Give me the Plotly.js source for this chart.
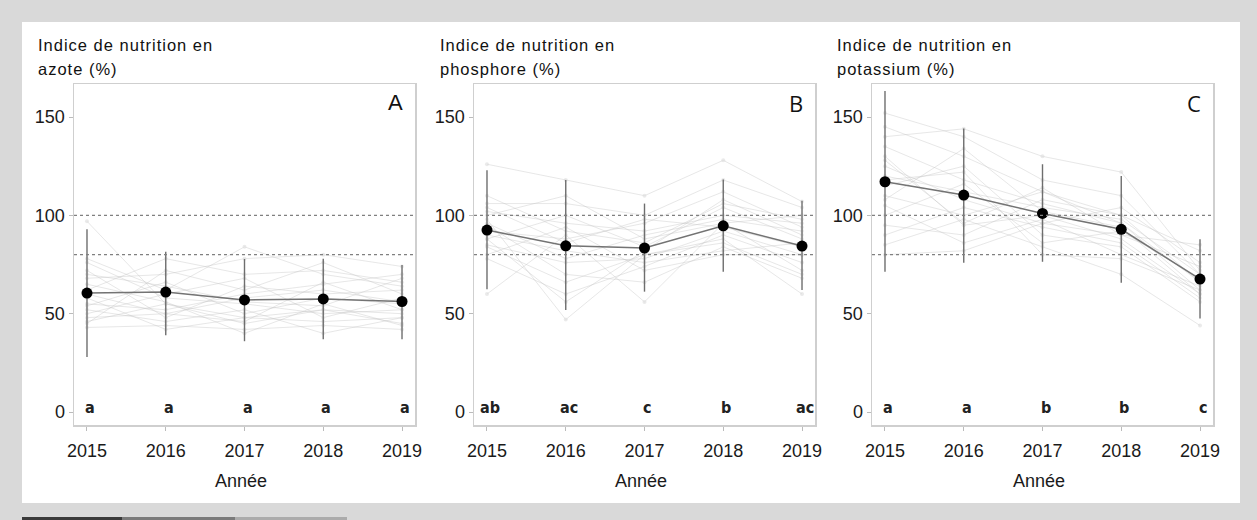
<!DOCTYPE html>
<html><head><meta charset="utf-8">
<script src="https://cdn.plot.ly/plotly-3.0.1.min.js"></script>
<style>html,body{margin:0;padding:0;background:#d9d9d9;}#chart{width:1257px;height:520px;}</style>
</head><body><div id="chart"></div>
<script>
// ---------- DATA ----------
const years = [2015, 2016, 2017, 2018, 2019];

// Panel A: azote
const titleA = ["Indice de nutrition en", "azote (%)"];
const meanA = [60.5, 61, 57, 57.5, 56.2];
const upperA = [93, 81.5, 77.8, 78, 74.7];
const lowerA = [28, 39, 36, 37, 37];
const lettersA = ["a", "a", "a", "a", "a"];
const indivA = [
  [97, 55, 48, 52, 45], [78, 62, 84, 70, 64], [76, 58, 55, 50, 52], [68, 70, 78, 80, 74],
  [55, 52, 60, 65, 70], [54, 66, 50, 58, 55], [48, 50, 58, 62, 56], [46, 55, 45, 52, 50],
  [43, 44, 42, 44, 42], [72, 48, 64, 60, 62], [62, 78, 70, 72, 66], [58, 42, 48, 46, 48],
  [50, 60, 68, 48, 58], [65, 56, 40, 55, 44], [45, 72, 62, 76, 60], [52, 46, 52, 40, 48],
  [70, 64, 56, 54, 68], [60, 50, 46, 66, 52]
];

// Panel B: phosphore
const titleB = ["Indice de nutrition en", "phosphore (%)"];
const meanB = [92.5, 84.5, 83.4, 94.7, 84.4];
const upperB = [123, 118, 106, 118.3, 107.4];
const lowerB = [62.4, 51.9, 61.2, 71.3, 62];
const lettersB = ["ab", "ac", "c", "b", "ac"];
const indivB = [
  [126, 118, 110, 128, 107], [106, 106, 100, 118, 104], [60, 90, 56, 96, 100], [98, 47, 80, 88, 60],
  [95, 70, 66, 84, 68], [102, 96, 92, 100, 96], [88, 100, 84, 104, 88], [78, 60, 74, 90, 76],
  [92, 88, 96, 112, 94], [85, 76, 78, 92, 80], [100, 110, 88, 96, 72], [90, 82, 76, 82, 86],
  [110, 92, 86, 106, 98], [84, 66, 80, 86, 70], [96, 78, 90, 98, 92], [80, 94, 72, 80, 80],
  [104, 86, 98, 94, 84], [88, 56, 82, 108, 90]
];

// Panel C: potassium
const titleC = ["Indice de nutrition en", "potassium (%)"];
const meanC = [117.1, 110.3, 101, 92.9, 67.6];
const upperC = [163.2, 144.2, 126, 120, 87.8];
const lowerC = [71.3, 75.9, 76.4, 65.7, 47.6];
const lettersC = ["a", "a", "b", "b", "c"];
const indivC = [
  [152, 140, 118, 110, 70], [145, 130, 112, 100, 66], [140, 144, 130, 122, 72], [135, 118, 106, 96, 62],
  [130, 95, 100, 88, 60], [125, 108, 96, 90, 74], [120, 112, 104, 98, 70], [115, 125, 90, 84, 56],
  [110, 100, 112, 96, 66], [105, 86, 98, 80, 64], [100, 116, 86, 92, 68], [95, 90, 108, 100, 82],
  [90, 104, 94, 86, 58], [85, 98, 84, 70, 44], [80, 82, 96, 104, 76], [118, 122, 80, 78, 62],
  [128, 96, 114, 90, 85], [108, 134, 102, 94, 60]
];

const panelLetters = ["A", "B", "C"];
const refLines = [80, 100];
const yTicks = [0, 50, 100, 150];
const xLabel = "Année";

// ---------- BUILD ----------
const W = 1257, H = 520;
const panels = [
  {mean: meanA, up: upperA, lo: lowerA, letters: lettersA, indiv: indivA, title: titleA, x0: 74, x1: 415, tx: 36, letterFont: "Liberation Sans"},
  {mean: meanB, up: upperB, lo: lowerB, letters: lettersB, indiv: indivB, title: titleB, x0: 474, x1: 815, tx: 438, letterFont: "Open Sans"},
  {mean: meanC, up: upperC, lo: lowerC, letters: lettersC, indiv: indivC, title: titleC, x0: 872, x1: 1213, tx: 835, letterFont: "Open Sans"}
];
const yTop = 84, yBot = 425;
const traces = [], annotations = [], shapes = [];
const layout = {
  width: W, height: H, margin: {l: 0, r: 0, t: 0, b: 0},
  paper_bgcolor: "#d9d9d9", plot_bgcolor: "#ffffff", showlegend: false,
  font: {family: "Liberation Sans, Arial, sans-serif", color: "#222"}
};
shapes.push({type: "rect", xref: "paper", yref: "paper", x0: 22 / W, x1: 1240 / W, y0: 1 - 503 / H, y1: 1 - 22 / H,
  fillcolor: "#ffffff", line: {width: 0}, layer: "below"});
[[22, 122, "#3a3a3a"], [122, 235, "#7a7a7a"], [235, 347, "#ababab"]].forEach(s => {
  shapes.push({type: "rect", xref: "paper", yref: "paper", x0: s[0] / W, x1: s[1] / W, y0: 0, y1: 3 / H,
    fillcolor: s[2], line: {width: 0}, layer: "below"});
});

panels.forEach((p, i) => {
  const sfx = i === 0 ? "" : String(i + 1);
  const xa = "x" + sfx, ya = "y" + sfx;
  layout["xaxis" + sfx] = {
    domain: [p.x0 / W, p.x1 / W], anchor: ya, range: [2014.835, 2019.165],
    tickvals: years, ticktext: years.map(String), ticks: "outside", ticklen: 4, tickcolor: "#bbbbbb",
    ticklabelstandoff: 5,
    showline: true, mirror: true, linecolor: "#cfcfcf", linewidth: 1.5, showgrid: false, zeroline: false,
    tickfont: {size: 18, color: "#1a1a1a"}, fixedrange: true
  };
  layout["yaxis" + sfx] = {
    domain: [1 - yBot / H, 1 - yTop / H], anchor: xa, range: [-6.6, 166.8],
    tickvals: yTicks, ticks: "outside", ticklen: 4, tickcolor: "#bbbbbb",
    showline: true, mirror: true, linecolor: "#cfcfcf", linewidth: 1.5, showgrid: false, zeroline: false,
    tickfont: {size: 18, color: "#1a1a1a"}, fixedrange: true
  };
  p.indiv.forEach(v => {
    traces.push({x: years, y: v, xaxis: xa, yaxis: ya, mode: "lines+markers", hoverinfo: "skip",
      line: {color: "rgba(195,195,195,0.4)", width: 1},
      marker: {size: 4, color: "rgba(220,220,220,0.6)"}});
  });
  traces.push({x: years, y: p.mean, xaxis: xa, yaxis: ya, mode: "lines+markers",
    line: {color: "#737373", width: 1.5},
    marker: {size: 11, color: "#000000"},
    error_y: {type: "data", symmetric: false,
      array: p.up.map((u, k) => u - p.mean[k]),
      arrayminus: p.lo.map((l, k) => p.mean[k] - l),
      color: "#6e6e6e", thickness: 1.4, width: 0}});
  refLines.forEach(r => {
    shapes.push({type: "line", xref: xa + " domain", yref: ya, x0: 0, x1: 1, y0: r, y1: r,
      line: {color: "#808080", width: 1.2, dash: "dot"}});
  });
  p.letters.forEach((t, k) => {
    annotations.push({x: years[k], y: 2.5, xref: xa, yref: ya, text: "<b>" + t + "</b>", showarrow: false,
      xshift: 3, font: {size: 16, family: "Liberation Sans Narrow, DejaVu Sans Condensed, sans-serif", color: "#222"}});
  });
  annotations.push({xref: "paper", yref: "paper", x: (p.x1 - 10) / W, y: 1 - 103 / H, xanchor: "right", yanchor: "middle",
    text: panelLetters[i], showarrow: false, font: {size: 22, family: p.letterFont, color: "#111", weight: 500}});
  annotations.push({xref: "paper", yref: "paper", x: p.tx / W, y: 1 - 45 / H, xanchor: "left", yanchor: "middle",
    text: '<span style="letter-spacing:1px">' + p.title[0] + '</span>', showarrow: false, font: {size: 16.5, color: "#111"}});
  annotations.push({xref: "paper", yref: "paper", x: p.tx / W, y: 1 - 69 / H, xanchor: "left", yanchor: "middle",
    text: '<span style="letter-spacing:1px">' + p.title[1] + '</span>', showarrow: false, font: {size: 16.5, color: "#111"}});
  annotations.push({xref: "paper", yref: "paper", x: ((p.x0 + p.x1) / 2 - 4) / W, y: 1 - 481 / H, xanchor: "center", yanchor: "middle",
    text: xLabel, showarrow: false, font: {size: 18, color: "#1a1a1a"}});
});
layout.shapes = shapes;
layout.annotations = annotations;
Plotly.newPlot("chart", traces, layout, {displayModeBar: false, staticPlot: true});
</script></body></html>
